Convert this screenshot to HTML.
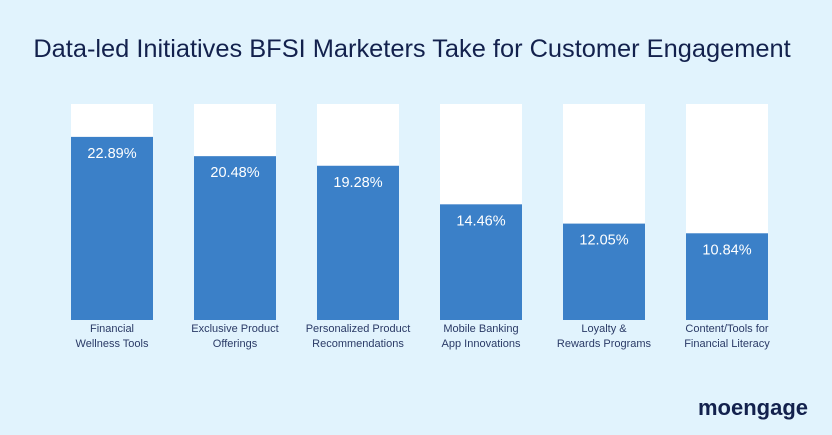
<!DOCTYPE html>
<html><head><meta charset="utf-8"><style>
body{margin:0;width:832px;height:435px;background:#e1f3fd;font-family:"Liberation Sans",sans-serif;overflow:hidden}
svg{display:block}
</style></head><body>
<svg width="832" height="435">
<text x="412" y="57" text-anchor="middle" font-size="25.4" fill="#13214d">Data-led Initiatives BFSI Marketers Take for Customer Engagement</text>
<g id="bars"></g>
<text x="753" y="415" text-anchor="middle" font-size="22" font-weight="bold" fill="#13214d">moengage</text>
</svg>
<script>
const categories=[["Financial","Wellness Tools"],["Exclusive Product","Offerings"],["Personalized Product","Recommendations"],["Mobile Banking","App Innovations"],["Loyalty &","Rewards Programs"],["Content/Tools for","Financial Literacy"]];
const values=[22.89,20.48,19.28,14.46,12.05,10.84];
const labels=["22.89%","20.48%","19.28%","14.46%","12.05%","10.84%"];
const maxV=27;
const ns="http://www.w3.org/2000/svg";
const g=document.getElementById('bars');
const base=320,top0=104,x0=71,step=123,w=82;
const y=v=>base-(v/maxV)*(base-top0);
function mk(t,a){const e=document.createElementNS(ns,t);for(const k in a)e.setAttribute(k,a[k]);g.appendChild(e);return e;}
values.forEach((v,i)=>{
 const x=x0+i*step;
 const bg=mk('rect',{x:x,y:top0,width:w,height:base-top0,fill:'#ffffff'});
 
 
 const r=mk('rect',{x:x,y:y(v),width:w,height:base-y(v),fill:'#3b80c8'});
 
 
 const t=mk('text',{x:x+w/2,y:y(v)+21,'text-anchor':'middle','font-size':'14.5',fill:'#ffffff'});
 t.textContent=labels[i];
 
 
 categories[i].forEach((line,j)=>{
  const c=mk('text',{x:x+w/2,y:332+j*15,'text-anchor':'middle','font-size':'11',fill:'#2a3a66'});
  c.textContent=line;
  
  
 });
});
</script>
</body></html>
